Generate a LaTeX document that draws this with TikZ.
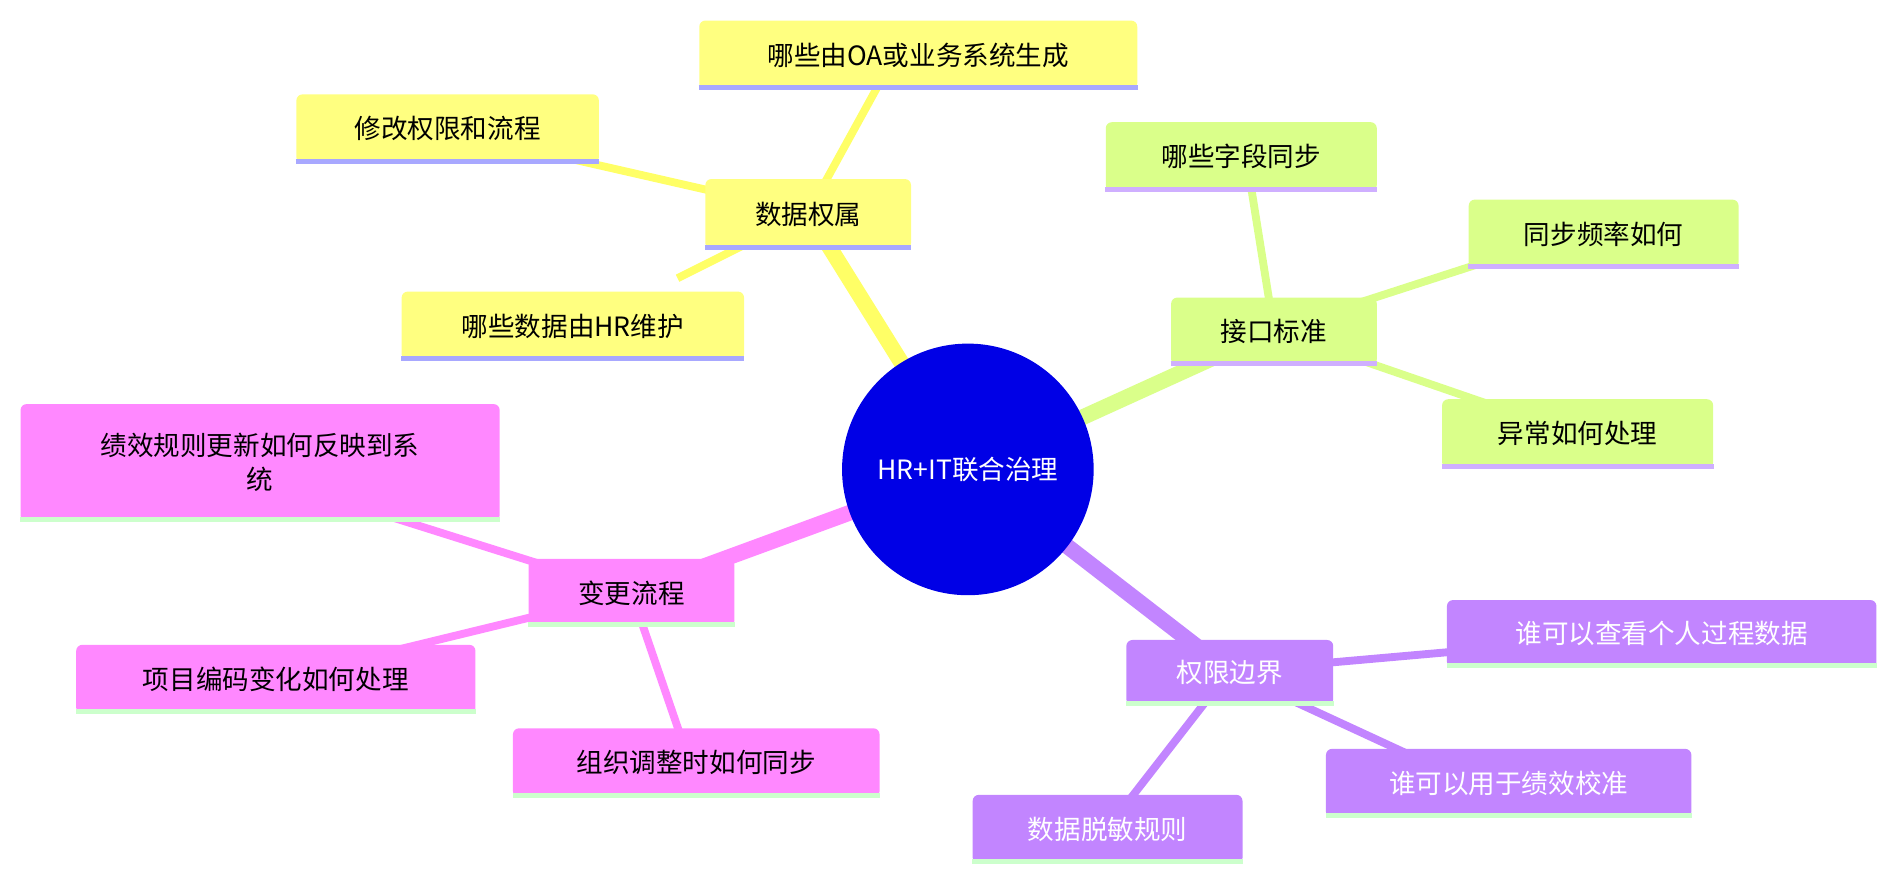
\documentclass[tikz,border=0pt]{standalone}
\usepackage{fontspec}
\setmainfont{Noto Sans CJK SC}
\definecolor{yel}{HTML}{FFFF80}
\definecolor{yelE}{HTML}{FFFF66}
\definecolor{grn}{HTML}{DAFF8A}
\definecolor{pur}{HTML}{C285FF}
\definecolor{pnk}{HTML}{FF88FF}
\definecolor{cblue}{HTML}{0000E6}
\definecolor{bdY}{HTML}{A8A8FF}
\definecolor{bdG}{HTML}{CFAFFF}
\definecolor{bdP}{HTML}{CCFFCC}
\tikzset{box/.style={rounded corners=0.1cm, inner sep=2pt, align=center, font=\fontsize{12.5}{16}\selectfont},
 main/.style={line width=0.26cm}, sub/.style={line width=0.13cm}}
\newcommand\mm[9]{%
 \pgfmathsetmacro\ww{(#4-#2)*0.02}\pgfmathsetmacro\hh{(#5-#3)*0.02}%
 \node[box, fill=#6, text=#8, minimum width=\ww cm, minimum height=\hh cm] (#1) at ({(#2+#4)/2},{(#3+#5)/2}) {#9};
 \draw[#7, line width=0.08cm] ([yshift=0.04cm]#1.south west) -- ([yshift=0.04cm]#1.south east);}
\begin{document}
\begin{tikzpicture}[x=0.02cm,y=-0.02cm]
\useasboundingbox (0,0) rectangle (1568,729);
\coordinate (c) at (800,388);
% edges
\draw[main,yelE] (c) -- (668,176);
\draw[main,grn] (c) -- (1053,273);
\draw[main,pur] (c) -- (1016,555);
\draw[main,pnk] (c) -- (522,490);
\draw[sub,yelE] (668,176) -- (740,45);
\draw[sub,yelE] (668,176) -- (400,115);
\draw[sub,yelE] (668,176) -- (560,230);
\draw[sub,grn] (1053,273) -- (1030,129);
\draw[sub,grn] (1053,273) -- (1300,193);
\draw[sub,grn] (1053,273) -- (1300,358);
\draw[sub,pur] (1016,555) -- (1300,530);
\draw[sub,pur] (1016,555) -- (1200,640);
\draw[sub,pur] (1016,555) -- (915,685);
\draw[sub,pnk] (522,490) -- (300,420);
\draw[sub,pnk] (522,490) -- (230,561);
\draw[sub,pnk] (522,490) -- (570,630);
% nodes
\node[circle, fill=cblue, minimum size=4.16cm, text=white, font=\fontsize{12.5}{16}\selectfont] (ctr) at (c) {HR+IT联合治理};
\mm{d}{583}{148}{753}{206}{yel}{bdY}{black}{数据权属}
\mm{d1}{578}{17}{940}{74}{yel}{bdY}{black}{哪些由OA或业务系统生成}
\mm{d2}{245}{78}{495}{135}{yel}{bdY}{black}{修改权限和流程}
\mm{d3}{332}{241}{615}{298}{yel}{bdY}{black}{哪些数据由HR维护}
\mm{j}{968}{246}{1138}{302}{grn}{bdG}{black}{接口标准}
\mm{j1}{914}{101}{1138}{158}{grn}{bdG}{black}{哪些字段同步}
\mm{j2}{1214}{165}{1437}{222}{grn}{bdG}{black}{同步频率如何}
\mm{j3}{1192}{330}{1416}{387}{grn}{bdG}{black}{异常如何处理}
\mm{q}{931}{529}{1102}{583}{pur}{bdP}{white}{权限边界}
\mm{q1}{1196}{496}{1551}{552}{pur}{bdP}{white}{谁可以查看个人过程数据}
\mm{q2}{1096}{619}{1398}{676}{pur}{bdP}{white}{谁可以用于绩效校准}
\mm{q3}{804}{657}{1027}{714}{pur}{bdP}{white}{数据脱敏规则}
\mm{b}{437}{462}{607}{518}{pnk}{bdP}{black}{变更流程}
\mm{b1}{17}{334}{413}{431}{pnk}{bdP}{black}{绩效规则更新如何反映到系\\统}
\mm{b2}{63}{533}{393}{590}{pnk}{bdP}{black}{项目编码变化如何处理}
\mm{b3}{424}{602}{727}{659}{pnk}{bdP}{black}{组织调整时如何同步}
\end{tikzpicture}
\end{document}
